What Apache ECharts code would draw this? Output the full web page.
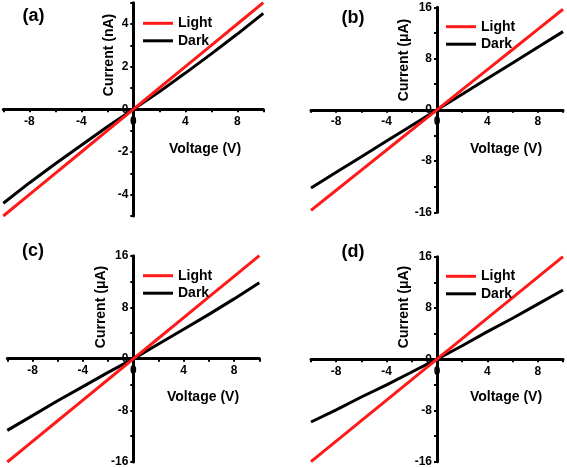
<!DOCTYPE html>
<html>
<head>
<meta charset="utf-8">
<script src="https://cdn.jsdelivr.net/npm/echarts@6/dist/echarts.min.js"></script>
<style>
html,body{margin:0;padding:0;background:#fff;}
#chart{width:567px;height:468px;}
</style>
</head>
<body>
<div id="chart"></div>
<script>
// Voltage sweep (V)
var voltage = [-10, -8, -6, -4, -2, 0, 2, 4, 6, 8, 10];
// Panel (a) currents (nA)
var lightA = [-5.0, -4.0, -3.0, -2.0, -1.0, 0, 1.0, 2.0, 3.0, 4.0, 5.0];
var darkA  = [-4.4, -3.45, -2.55, -1.68, -0.82, 0, 0.82, 1.7, 2.6, 3.53, 4.5];
// Panel (b) currents (uA)
var lightB = [-15.7, -12.56, -9.42, -6.28, -3.14, 0, 3.14, 6.28, 9.42, 12.56, 15.7];
var darkB  = [-12.2, -9.76, -7.32, -4.88, -2.44, 0, 2.44, 4.88, 7.32, 9.76, 12.2];
// Panel (c) currents (uA)
var lightC = [-16.0, -12.8, -9.6, -6.4, -3.2, 0, 3.2, 6.4, 9.6, 12.8, 16.0];
var darkC  = [-11.1, -8.8, -6.5, -4.3, -2.1, 0, 2.3, 4.6, 6.9, 9.3, 11.8];
// Panel (d) currents (uA)
var lightD = [-16.0, -12.8, -9.6, -6.4, -3.2, 0, 3.2, 6.4, 9.6, 12.8, 16.0];
var darkD  = [-9.8, -7.9, -5.9, -4.0, -2.0, 0, 2.1, 4.3, 6.4, 8.6, 10.8];

var panelLabels = ['(a)', '(b)', '(c)', '(d)'];
var yNames = ['Current (nA)', 'Current (\u03bcA)', 'Current (\u03bcA)', 'Current (\u03bcA)'];
var xName = 'Voltage (V)';
var seriesNames = ['Light', 'Dark'];

var FONT = "Arial, 'Liberation Sans', sans-serif";
var RED = '#ff1a1a';

function pairs(ys) { return voltage.map(function (v, i) { return [v, ys[i]]; }); }

var grids = [
  {left: 3.3, top: 2.7, width: 260, height: 213.3},
  {left: 311, top: 7.3, width: 252, height: 205},
  {left: 7.3, top: 255.7, width: 252, height: 206.6},
  {left: 311, top: 256.7, width: 252, height: 205}
];
var yCfg = [
  {min: -5, max: 5, interval: 1, labelStep: 2},
  {min: -16, max: 16, interval: 4, labelStep: 8},
  {min: -16, max: 16, interval: 4, labelStep: 8},
  {min: -16, max: 16, interval: 4, labelStep: 8}
];
var xMin = -10, xMax = 10;
var lightData = [lightA, lightB, lightC, lightD];
var darkData = [darkA, darkB, darkC, darkD];

var axisLine = {onZero: false, lineStyle: {color: '#000', width: 3}};
var axisTick = {show: true, inside: false, length: 3, lineStyle: {color: '#000', width: 2}};
var labelBase = {color: '#000', fontWeight: 'bold', fontSize: 12, fontFamily: FONT};

var xAxes = [], yAxes = [], series = [], legends = [], graphics = [];
grids.forEach(function (g, i) {
  var yc = yCfg[i];
  // shift axes so they cross at the origin
  var xOff = -g.height * (0 - yc.min) / (yc.max - yc.min);
  var yOff = -g.width * (0 - xMin) / (xMax - xMin);
  xAxes.push({
    gridIndex: i, type: 'value', min: xMin, max: xMax, interval: 2,
    position: 'bottom', offset: xOff,
    axisLine: axisLine, axisTick: axisTick,
    axisLabel: Object.assign({margin: 6, showMinLabel: true, showMaxLabel: true,
      formatter: function (v) { return (Math.round(v) % 4 === 0 && Math.abs(v) < 10) ? String(v) : ''; }}, labelBase),
    splitLine: {show: false}
  });
  yAxes.push({
    gridIndex: i, type: 'value', min: yc.min, max: yc.max, interval: yc.interval,
    position: 'left', offset: yOff,
    axisLine: axisLine, axisTick: axisTick,
    axisLabel: Object.assign({margin: 5, showMinLabel: true, showMaxLabel: true,
      formatter: function (v) { return (Math.round(v) % yc.labelStep === 0) ? String(v) : ''; }}, labelBase),
    splitLine: {show: false}
  });
  series.push({
    name: 'Dark', type: 'line', xAxisIndex: i, yAxisIndex: i,
    data: pairs(darkData[i]), showSymbol: false, symbol: 'none',
    lineStyle: {color: '#000', width: 3}, itemStyle: {color: '#000'}, z: 2, animation: false
  });
  series.push({
    name: 'Light', type: 'line', xAxisIndex: i, yAxisIndex: i,
    data: pairs(lightData[i]), showSymbol: false, symbol: 'none',
    lineStyle: {color: RED, width: 3}, itemStyle: {color: RED}, z: 3, animation: false
  });
});

var legendPos = [
  {left: 143, top: 15.3},
  {left: 446, top: 18.7},
  {left: 143, top: 267.7},
  {left: 446, top: 268.3}
];
legendPos.forEach(function (p) {
  legends.push({
    data: seriesNames, orient: 'vertical', left: p.left, top: p.top, padding: 0,
    icon: 'rect', itemWidth: 30, itemHeight: 3, itemGap: 1.5, selectedMode: false,
    textStyle: {color: '#000', fontWeight: 'bold', fontSize: 14, fontFamily: FONT, lineHeight: 16}
  });
});

var yNamePos = [[109, 55], [404.5, 60], [101.5, 307], [404.5, 307]];
var xNamePos = [[205, 149], [506, 149], [203, 397], [506, 397]];
var panelPos = [[33.5, 16.5], [353, 18], [33, 250.7], [353, 252]];
for (var i = 0; i < 4; i++) {
  graphics.push({type: 'text', x: yNamePos[i][0], y: yNamePos[i][1], rotation: Math.PI / 2,
    style: {text: yNames[i], fill: '#000', font: 'bold 14px ' + FONT, textAlign: 'center', textVerticalAlign: 'middle'}});
  graphics.push({type: 'text', x: xNamePos[i][0], y: xNamePos[i][1],
    style: {text: xName, fill: '#000', font: 'bold 14px ' + FONT, textAlign: 'center', textVerticalAlign: 'middle'}});
  graphics.push({type: 'text', x: panelPos[i][0], y: panelPos[i][1],
    style: {text: panelLabels[i], fill: '#000', font: 'bold 18px ' + FONT, textAlign: 'center', textVerticalAlign: 'middle'}});
}

var chart = echarts.init(document.getElementById('chart'), null, {renderer: 'canvas'});
chart.setOption({
  backgroundColor: '#fff',
  animation: false,
  grid: grids,
  xAxis: xAxes,
  yAxis: yAxes,
  legend: legends,
  series: series,
  graphic: graphics
});
</script>
</body>
</html>
